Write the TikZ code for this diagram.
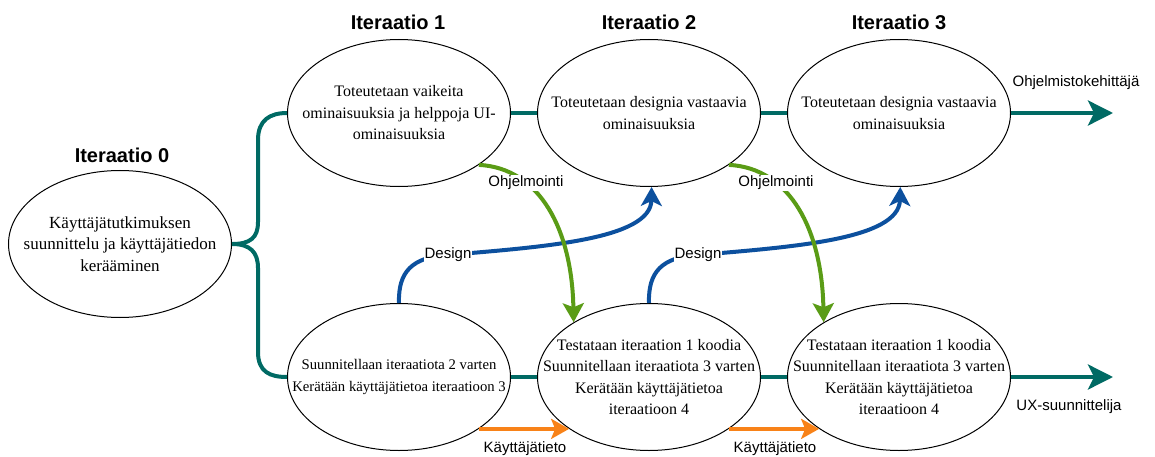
\documentclass[tikz,border=0pt]{standalone}
\usepackage{fontspec}
\setmainfont{Liberation Serif}
\setsansfont{Liberation Sans}
\usetikzlibrary{shapes.geometric,arrows.meta}
\definecolor{flowteal}{RGB}{0,106,100}
\definecolor{codegreen}{RGB}{90,156,22}
\definecolor{designblue}{RGB}{12,80,158}
\definecolor{dataorange}{RGB}{248,130,24}
\begin{document}
\begin{tikzpicture}[x=1pt,y=-1pt,
  stage/.style={ellipse, draw=black, line width=1pt, minimum width=223pt,
    minimum height=147pt, inner sep=0pt},
  stagetext/.style={align=center, inner sep=0pt,
    font=\fontsize{16}{21.5}\selectfont},
  heading/.style={font=\sffamily\bfseries\fontsize{20}{24}\selectfont},
  tag/.style={font=\sffamily\fontsize{15}{18}\selectfont},
  ontag/.style={tag, fill=white, inner sep=1pt},
  flow/.style={draw=flowteal, line width=4pt},
  flowout/.style={flow, -{Stealth[length=25pt,width=25pt,inset=6pt]}},
  coding/.style={draw=codegreen, line width=4pt,
    -{Stealth[length=19pt,width=21pt,inset=4pt]}},
  design/.style={draw=designblue, line width=4pt,
    -{Stealth[length=19pt,width=21pt,inset=5pt]}},
  userdata/.style={draw=dataorange, line width=4.5pt,
    -{Stealth[length=18pt,width=20pt,inset=4pt]}}]
\useasboundingbox (0,0) rectangle (1155,457);

% headings
\node[heading] (h0) at (122,155) {Iteraatio 0};
\node[heading] (h1) at (398,22) {Iteraatio 1};
\node[heading] (h2) at (649,22) {Iteraatio 2};
\node[heading] (h3) at (899,22) {Iteraatio 3};

% iteration 0
\node[stage, label={[stagetext, font=\fontsize{17}{21.5}\selectfont]center:Käyttäjätutkimuksen\\suunnittelu ja käyttäjätiedon\\kerääminen}] (e0) at (120,244) {};

% development row
\node[stage, label={[stagetext]center:Toteutetaan vaikeita\\ominaisuuksia ja helppoja UI-\\ominaisuuksia}] (e1) at (399,113) {};
\node[stage, label={[stagetext]center:Toteutetaan designia vastaavia\\ominaisuuksia}] (e2) at (649,113) {};
\node[stage, label={[stagetext]center:Toteutetaan designia vastaavia\\ominaisuuksia}] (e3) at (899,113) {};

% UX row
\node[stage, label={[stagetext, font=\fontsize{14.7}{21.5}\selectfont]center:Suunnitellaan iteraatiota 2 varten\\Kerätään käyttäjätietoa iteraatioon 3}] (e4) at (399,377) {};
\node[stage, label={[stagetext]center:Testataan iteraation 1 koodia\\Suunnitellaan iteraatiota 3 varten\\Kerätään käyttäjätietoa\\iteraatioon 4}] (e5) at (649,377) {};
\node[stage, label={[stagetext]center:Testataan iteraation 1 koodia\\Suunnitellaan iteraatiota 3 varten\\Kerätään käyttäjätietoa\\iteraatioon 4}] (e6) at (899,377) {};

% branching from iteration 0
\draw[flow] (e0.east) .. controls (250,244) and (258,238) .. (258,222)
  -- (258,140) .. controls (258,120) and (270,113) .. (e1.west);
\draw[flow] (e0.east) .. controls (250,244) and (258,252) .. (258,268)
  -- (258,352) .. controls (258,372) and (270,377) .. (e4.west);

% links along the rows
\draw[flow] (e1) -- (e2);
\draw[flow] (e2) -- (e3);
\draw[flow] (e4) -- (e5);
\draw[flow] (e5) -- (e6);

% outputs
\coordinate (devend) at (1113,113);
\coordinate (uxend) at (1113,377);
\draw[flowout] (e3.east) -- (devend);
\draw[flowout] (e6.east) -- (uxend);
\node[tag] (devlabel) at (1076,83) {Ohjelmistokehittäjä};
\node[tag] (uxlabel) at (1069,407) {UX-suunnittelija};

% design hand-over
\draw[design] (e4.north) .. controls (398,272) and (412,257) .. (448,255)
  node[ontag] (des1) {Design}
  .. controls (540,247) and (651,240) .. (e2.-88);
\draw[design] (e5.north) .. controls (648,272) and (662,257) .. (698,255)
  node[ontag] (des2) {Design}
  .. controls (790,247) and (899,240) .. (e3.-89);

% programming hand-over
\draw[coding] (e1.-33) .. controls (540,168) and (572,230) .. (e5.144)
  node[ontag, pos=0.3] (ohj1) {Ohjelmointi};
\draw[coding] (e2.-33) .. controls (790,168) and (822,230) .. (e6.144)
  node[ontag, pos=0.3] (ohj2) {Ohjelmointi};

% user data hand-over
\draw[userdata] (e4.-33) -- (e5.-147);
\draw[userdata] (e5.-33) -- (e6.-147);
\node[tag] (kt1) at (525,449) {Käyttäjätieto};
\node[tag] (kt2) at (775,449) {Käyttäjätieto};
\end{tikzpicture}
\end{document}
